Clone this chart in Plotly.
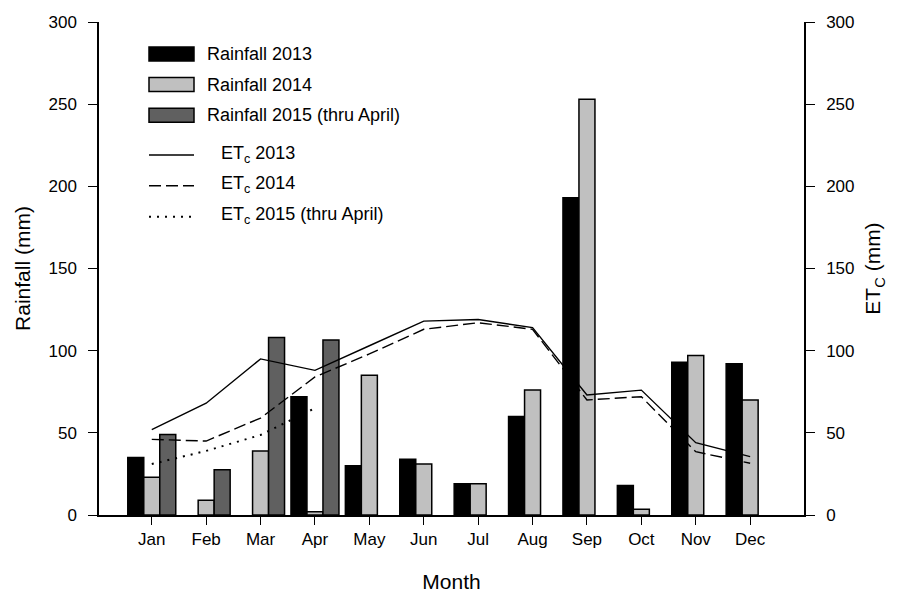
import plotly.graph_objects as go

# Monthly data
months = ["Jan", "Feb", "Mar", "Apr", "May", "Jun",
          "Jul", "Aug", "Sep", "Oct", "Nov", "Dec"]

rain_2013 = [35, None, None, 72, 30, 34, 19, 60, 193, 18, 93, 92]
rain_2014 = [23, 9, 39, 2, 85, 31, 19, 76, 253, 3.5, 97, 70]
rain_2015 = [49, 27.5, 108, 106.5, None, None, None, None, None, None, None, None]

etc_2013 = [52, 68, 95, 88, 103, 118, 119, 114, 73, 76, 44, 35.5]
etc_2014 = [46, 45, 59, 84, 98, 113, 117, 113, 70, 72, 38.5, 31.5]
etc_2015 = [31, 39, 48.7, 65]

y_ticks = [0, 50, 100, 150, 200, 250, 300]

FONT = "Arial, Liberation Sans, sans-serif"
BLACK = "#000000"

fig = go.Figure()

bar_specs = [
    ("Rainfall 2013", rain_2013, "#000000"),
    ("Rainfall 2014", rain_2014, "#c0c0c0"),
    ("Rainfall 2015 (thru April)", rain_2015, "#606060"),
]
for name, vals, color in bar_specs:
    fig.add_trace(go.Bar(
        x=months, y=vals, name=name,
        marker=dict(color=color, line=dict(color=BLACK, width=1.5)),
        yaxis="y",
    ))

line_specs = [
    ("ET<sub>c</sub> 2013", months, etc_2013, "solid", 1.4),
    ("ET<sub>c</sub> 2014", months, etc_2014, "12px,5px", 1.4),
    ("ET<sub>c</sub> 2015 (thru April)", months[:len(etc_2015)], etc_2015, "2px,6px", 2.0),
]
for name, xs, vals, dash, w in line_specs:
    fig.add_trace(go.Scatter(
        x=xs, y=vals, name=name, mode="lines",
        line=dict(color=BLACK, width=w, dash=dash),
        yaxis="y2",
    ))

# Plot-area geometry (pixels) used to place the hand-built legend
W, H = 898, 595
ML, MR, MT, MB = 99, 94, 22, 80
PW, PH = W - ML - MR, H - MT - MB


def px_x(px):
    return (px - ML) / PW


def px_y(py):
    return (MT + PH - py) / PH


shapes = []
annotations = []

# Legend: bar swatches
for (name, _, color), cy in zip(bar_specs, [54, 84.5, 115.3]):
    shapes.append(dict(
        type="rect", xref="paper", yref="paper",
        x0=px_x(149), x1=px_x(194), y0=px_y(cy + 7), y1=px_y(cy - 7),
        fillcolor=color, line=dict(color=BLACK, width=1.5),
    ))
    annotations.append(dict(
        xref="paper", yref="paper", x=px_x(205), y=px_y(cy),
        text=name, showarrow=False, xanchor="left", yanchor="middle",
        font=dict(family=FONT, size=18, color=BLACK),
    ))

# Legend: line samples
for (name, _, _, dash, w), cy in zip(line_specs, [155, 185.7, 216.7]):
    shapes.append(dict(
        type="line", xref="paper", yref="paper",
        x0=px_x(149), x1=px_x(194), y0=px_y(cy), y1=px_y(cy),
        line=dict(color=BLACK, width=w, dash=dash),
    ))
    annotations.append(dict(
        xref="paper", yref="paper", x=px_x(219), y=px_y(cy - 1),
        text=name, showarrow=False, xanchor="left", yanchor="middle",
        font=dict(family=FONT, size=18, color=BLACK),
    ))

axis_common = dict(
    range=[0, 300], tickvals=y_ticks, showgrid=False, zeroline=False,
    showline=True, linecolor=BLACK, linewidth=1.5,
    ticks="outside", ticklen=9, tickwidth=1.2, tickcolor=BLACK,
    tickfont=dict(family=FONT, size=17, color=BLACK),
    ticklabelstandoff=8,
)

fig.update_layout(
    width=W, height=H,
    margin=dict(l=ML, r=MR, t=MT, b=MB, autoexpand=False),
    plot_bgcolor="#ffffff", paper_bgcolor="#ffffff",
    barmode="group", bargap=0.118, bargroupgap=0,
    showlegend=False,
    font=dict(family=FONT, color=BLACK),
    xaxis=dict(
        type="category", range=[-0.97, 11.99],
        showgrid=False, zeroline=False,
        showline=True, linecolor=BLACK, linewidth=1.5,
        ticks="outside", ticklen=8, tickwidth=1.2, tickcolor=BLACK,
        tickfont=dict(family=FONT, size=17, color=BLACK),
        title=dict(text="Month", font=dict(family=FONT, size=21, color=BLACK), standoff=26),
    ),
    yaxis=dict(
        title=dict(text="Rainfall (mm)", font=dict(family=FONT, size=21, color=BLACK), standoff=12),
        **axis_common,
    ),
    yaxis2=dict(
        overlaying="y", side="right",
        title=dict(text="ET<sub>C</sub> (mm)", font=dict(family=FONT, size=21, color=BLACK), standoff=12),
        **axis_common,
    ),
    shapes=shapes,
    annotations=annotations,
)

fig.write_html("out.html")
